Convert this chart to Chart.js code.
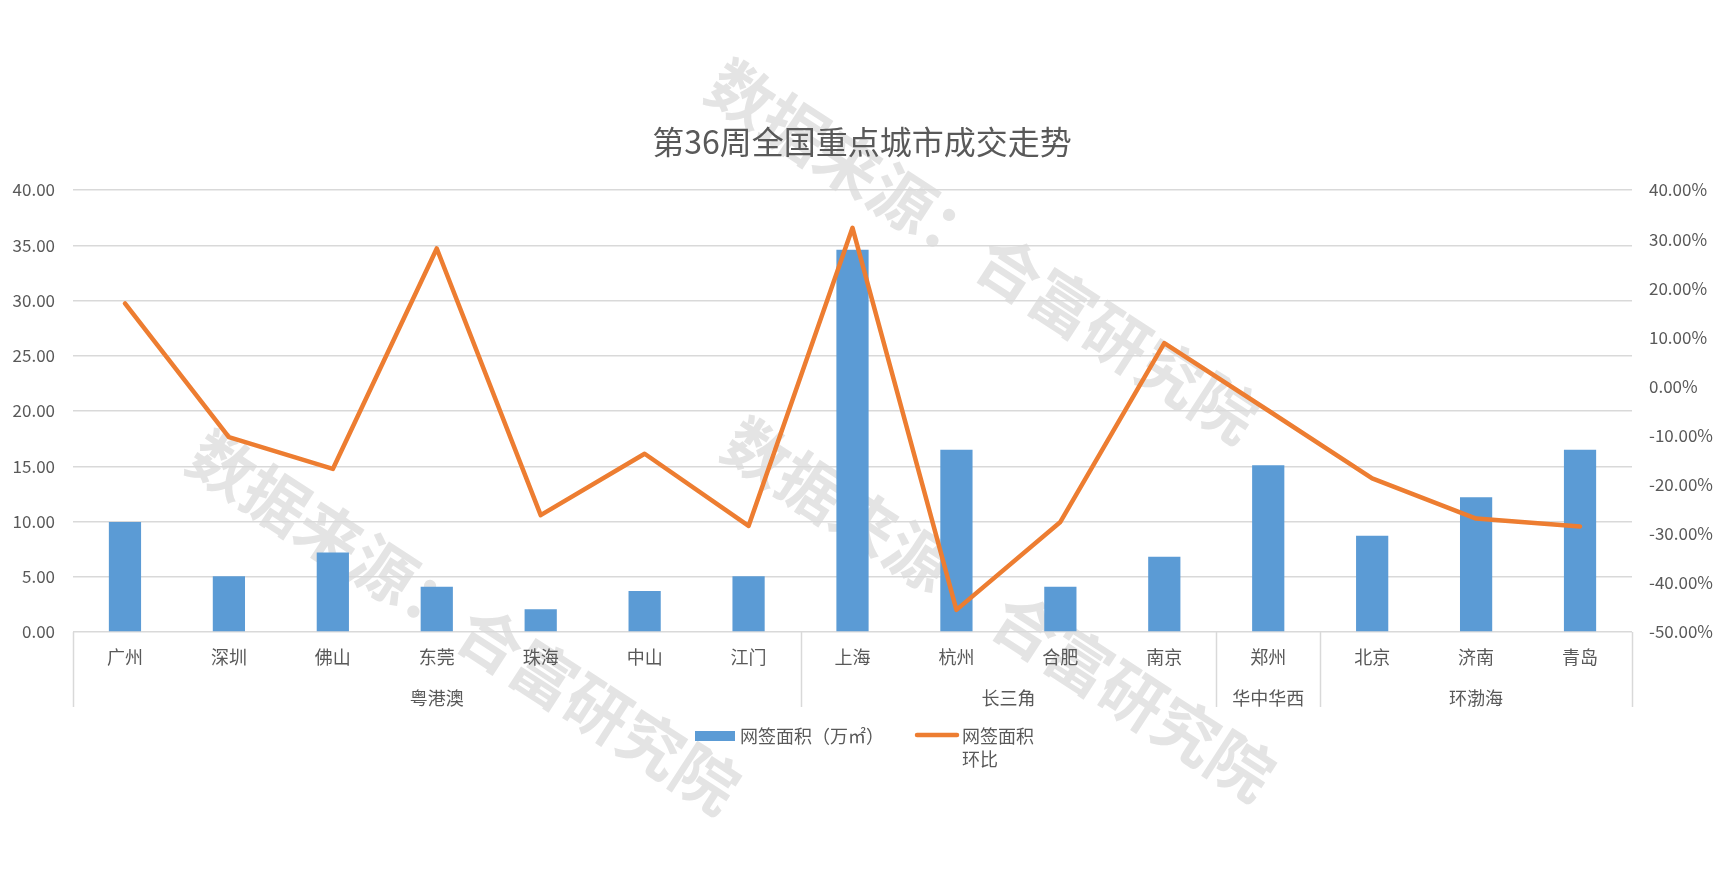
<!DOCTYPE html>
<html>
<head>
<meta charset="utf-8">
<script src="https://cdn.jsdelivr.net/npm/chart.js@4/dist/chart.umd.min.js"></script>
<style>
  html, body { margin: 0; padding: 0; background: #ffffff; }
  #wrap { width: 1724px; height: 891px; position: relative; }
</style>
</head>
<body>
<div id="wrap"><canvas id="c" width="1724" height="891"></canvas></div>
<script>
// ---- data ----
const titleText = '第36周全国重点城市成交走势';
const cities = ['广州','深圳','佛山','东莞','珠海','中山','江门','上海','杭州','合肥','南京','郑州','北京','济南','青岛'];
const groupNames = ['粤港澳','长三角','华中华西','环渤海'];
const groupSizes = [7, 4, 1, 3];
const areaValues = [9.95, 5.05, 7.2, 4.1, 2.05, 3.7, 5.05, 34.6, 16.5, 4.1, 6.8, 15.1, 8.7, 12.2, 16.5];
const rateValues = [16.9, -10.3, -16.8, 28.1, -26.2, -13.7, -28.4, 32.3, -45.5, -27.6, 8.8, -4.9, -18.7, -26.9, -28.5];
const areaLabel = '网签面积（万㎡）';
const rateLabelLines = ['网签面积', '环比'];
const watermarkText = '数据来源：合富研究院';

const BLUE = '#5b9bd5';
const ORANGE = '#ed7d31';
const GRID = '#d9d9d9';
const TEXT = '#595959';
const CJK = '"Noto Sans CJK SC", "Noto Sans", sans-serif';

const watermarkPlugin = {
  id: 'watermark',
  beforeDraw(chart) {
    const ctx = chart.ctx;
    const spots = [[983, 251], [464, 622], [999, 609]];
    ctx.save();
    ctx.fillStyle = '#e4e4e4';
    ctx.font = 'bold 64px ' + CJK;
    ctx.textAlign = 'center';
    ctx.textBaseline = 'middle';
    for (const [x, y] of spots) {
      ctx.save();
      ctx.translate(x, y);
      ctx.rotate(33 * Math.PI / 180);
      ctx.fillText(watermarkText, 0, 0);
      ctx.restore();
    }
    ctx.restore();
  }
};

const extrasPlugin = {
  id: 'extras',
  afterDraw(chart) {
    const ctx = chart.ctx;
    const xs = chart.scales.x;
    const area = chart.chartArea;
    const half = (xs.getPixelForValue(1) - xs.getPixelForValue(0)) / 2;
    // group separators and labels
    ctx.save();
    ctx.strokeStyle = GRID;
    ctx.lineWidth = 1.5;
    ctx.fillStyle = TEXT;
    ctx.font = '18px ' + CJK;
    ctx.textAlign = 'center';
    ctx.textBaseline = 'middle';
    let start = 0;
    const bounds = [0];
    groupSizes.forEach((n, gi) => {
      const end = start + n;
      bounds.push(end);
      const x0 = xs.getPixelForValue(start) - half;
      const x1 = xs.getPixelForValue(end - 1) + half;
      ctx.fillText(groupNames[gi], (x0 + x1) / 2, area.bottom + 66);
      start = end;
    });
    bounds.forEach(b => {
      const x = b < cities.length ? xs.getPixelForValue(b) - half : xs.getPixelForValue(cities.length - 1) + half;
      ctx.beginPath();
      ctx.moveTo(Math.round(x) + 0.5, area.bottom);
      ctx.lineTo(Math.round(x) + 0.5, area.bottom + 75);
      ctx.stroke();
    });
    // legend
    ctx.fillStyle = BLUE;
    ctx.fillRect(695, 731, 40, 10);
    ctx.fillStyle = TEXT;
    ctx.textAlign = 'left';
    ctx.fillText(areaLabel, 740, 736);
    ctx.strokeStyle = ORANGE;
    ctx.lineWidth = 4.5;
    ctx.lineCap = 'round';
    ctx.beginPath();
    ctx.moveTo(917, 735);
    ctx.lineTo(957, 735);
    ctx.stroke();
    ctx.fillText(rateLabelLines[0], 962, 736);
    ctx.fillText(rateLabelLines[1], 962, 759);
    ctx.restore();
  }
};

new Chart(document.getElementById('c'), {
  type: 'bar',
  data: {
    labels: cities,
    datasets: [
      {
        type: 'line',
        label: rateLabelLines.join(''),
        data: rateValues,
        yAxisID: 'y1',
        borderColor: ORANGE,
        backgroundColor: ORANGE,
        borderWidth: 4.5,
        pointRadius: 0,
        tension: 0,
        borderJoinStyle: 'round',
        borderCapStyle: 'round',
        order: 0
      },
      {
        type: 'bar',
        label: areaLabel,
        data: areaValues,
        yAxisID: 'y',
        backgroundColor: BLUE,
        categoryPercentage: 1,
        barPercentage: 0.31,
        order: 1
      }
    ]
  },
  options: {
    responsive: false,
    animation: false,
    devicePixelRatio: 1,
    layout: { padding: { top: 0, left: 0, right: 0, bottom: 0 } },
    plugins: {
      legend: { display: false },
      tooltip: { enabled: false },
      title: {
        display: true,
        text: titleText,
        color: TEXT,
        font: { family: CJK, size: 32, weight: 'normal', lineHeight: 1.2 },
        padding: { top: 123, bottom: 28.6 }
      }
    },
    scales: {
      x: {
        grid: { display: false, drawTicks: false },
        border: { display: false },
        ticks: {
          color: TEXT,
          font: { family: CJK, size: 18 },
          padding: 14,
          maxRotation: 0,
          autoSkip: false
        },
        afterFit(s) { s.height = 891 - 632; }
      },
      y: {
        position: 'left',
        min: 0, max: 40,
        grid: { color: GRID, lineWidth: 1.5, drawTicks: false },
        border: { display: false },
        ticks: {
          stepSize: 5,
          color: TEXT,
          padding: 18,
          font: { family: CJK, size: 17 },
          callback: v => v.toFixed(2)
        },
        afterFit(s) { s.width = 73; }
      },
      y1: {
        position: 'right',
        min: -50, max: 40,
        grid: { drawOnChartArea: false, drawTicks: false },
        border: { display: false },
        ticks: {
          stepSize: 10,
          color: TEXT,
          padding: 17,
          font: { family: CJK, size: 17 },
          callback: v => v.toFixed(2) + '%'
        },
        afterFit(s) { s.width = 92; }
      }
    }
  },
  plugins: [watermarkPlugin, extrasPlugin]
});
</script>
</body>
</html>
